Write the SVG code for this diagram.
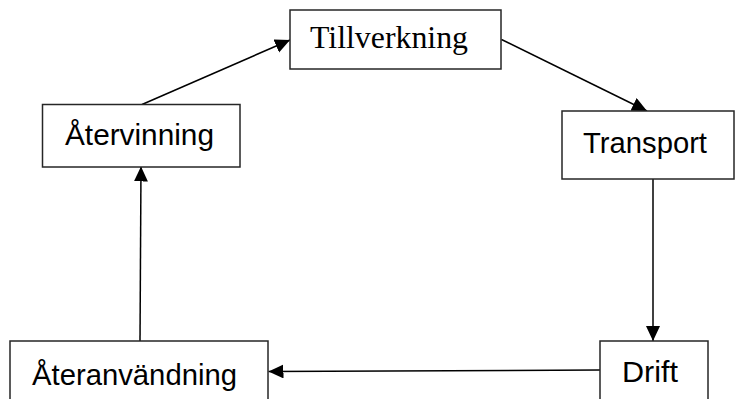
<svg xmlns="http://www.w3.org/2000/svg" width="735" height="399" viewBox="0 0 735 399">
<style>
.box{fill:#fff;stroke:#262626;stroke-width:1.5}
.serif{font-family:"Liberation Serif","Times New Roman",serif;font-size:31px;fill:#000}
.sans{font-family:"Liberation Sans",Arial,sans-serif;font-size:29px;fill:#000}
.edge{stroke:#000;stroke-width:1.5;fill:none;marker-end:url(#ah)}
</style>
<defs>
<marker id="ah" markerUnits="userSpaceOnUse" markerWidth="16" markerHeight="15" refX="15" refY="7" orient="auto">
<path d="M0,0 L15,7 L0,14 z" fill="#000"/>
</marker>
</defs>
<rect width="735" height="399" fill="#fff"/>
<g id="connectors">
<line class="edge" x1="142" y1="104.5" x2="290" y2="40"/>
<line class="edge" x1="501.5" y1="39.5" x2="647" y2="111"/>
<line class="edge" x1="653" y1="179" x2="653" y2="341"/>
<line class="edge" x1="600" y1="370" x2="268.5" y2="371.5"/>
<line class="edge" x1="140" y1="341" x2="141" y2="166.5"/>
</g>
<g id="tillverkning">
<rect class="box" x="290" y="10" width="211" height="59"/>
<text class="serif" x="310" y="48" textLength="158" lengthAdjust="spacingAndGlyphs">Tillverkning</text>
</g>
<g id="atervinning">
<rect class="box" x="42.5" y="104.5" width="197.5" height="62.5"/>
<text class="sans" x="65" y="145" textLength="149" lengthAdjust="spacingAndGlyphs">Återvinning</text>
</g>
<g id="transport">
<rect class="box" x="562" y="111" width="172" height="68"/>
<text class="sans" x="583" y="153" textLength="124" lengthAdjust="spacingAndGlyphs">Transport</text>
</g>
<g id="drift">
<rect class="box" x="600" y="341" width="108" height="62"/>
<text class="sans" x="622" y="382" textLength="56" lengthAdjust="spacingAndGlyphs">Drift</text>
</g>
<g id="ateranvandning">
<rect class="box" x="10" y="341" width="258" height="62"/>
<text class="sans" x="32" y="385" textLength="205" lengthAdjust="spacingAndGlyphs">Återanvändning</text>
</g>
</svg>
